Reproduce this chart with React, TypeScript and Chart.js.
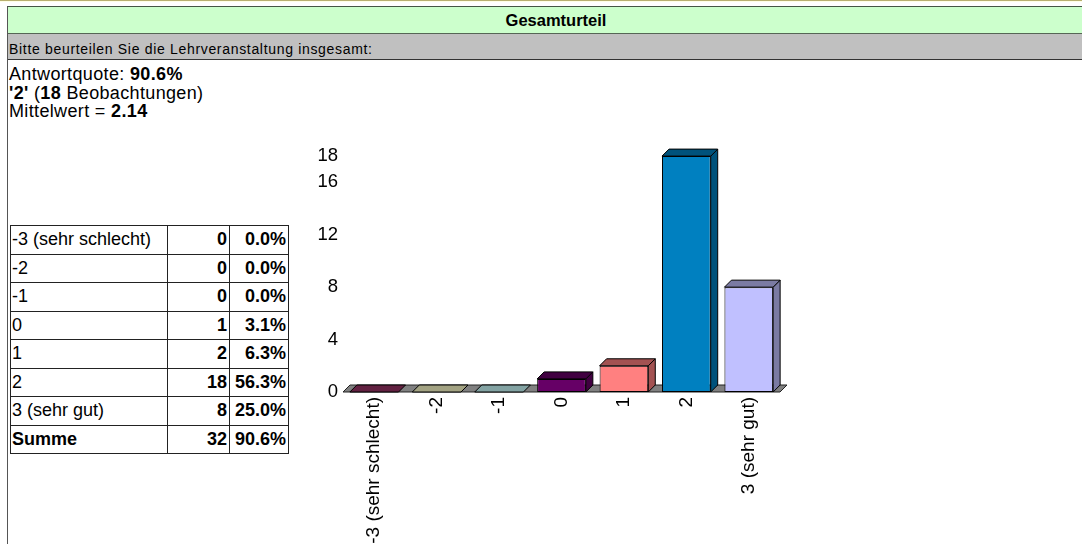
import React, { useEffect, useRef } from "react";
import { Chart, registerables } from "chart.js";

Chart.register(...registerables);

const FONT = '"Liberation Sans", Arial, Helvetica, sans-serif';

// ---- data ----
const categories = ["-3 (sehr schlecht)", "-2", "-1", "0", "1", "2", "3 (sehr gut)"];
const counts = [0, 0, 0, 1, 2, 18, 8];
const percents = ["0.0%", "0.0%", "0.0%", "3.1%", "6.3%", "56.3%", "25.0%"];
const barColors = ["#993366", "#FFFFCC", "#CCFFFF", "#660066", "#FF8080", "#0080C0", "#C0C0FF"];
const yTickValues = [0, 4, 8, 12, 16, 18];
const totalLabel = "Summe";
const totalCount = 32;
const totalPercent = "90.6%";
const responseRate = "90.6%";
const modeLabel = "'2'";
const modeCount = 18;
const meanValue = "2.14";
const titleText = "Gesamturteil";
const questionText = "Bitte beurteilen Sie die Lehrveranstaltung insgesamt:";

const DEPTH = 7;

function shade(hex: string, f: number) {
  const n = parseInt(hex.slice(1), 16);
  const r = Math.round(((n >> 16) & 255) * f);
  const g = Math.round(((n >> 8) & 255) * f);
  const b = Math.round((n & 255) * f);
  return `rgb(${r},${g},${b})`;
}

const threeD = {
  id: "threeD",
  beforeDatasetsDraw(chart: any) {
    const { ctx, chartArea, scales } = chart;
    const base = scales.y.getPixelForValue(0);
    const l = chartArea.left;
    const r = chartArea.right;
    ctx.save();
    ctx.beginPath();
    ctx.moveTo(l, base);
    ctx.lineTo(r, base);
    ctx.lineTo(r + DEPTH, base - DEPTH);
    ctx.lineTo(l + DEPTH, base - DEPTH);
    ctx.closePath();
    ctx.fillStyle = "#808080";
    ctx.fill();
    ctx.strokeStyle = "#222";
    ctx.lineWidth = 1;
    ctx.stroke();
    ctx.restore();
  },
  afterDatasetsDraw(chart: any) {
    const { ctx } = chart;
    const meta = chart.getDatasetMeta(0);
    meta.data.forEach((el: any, i: number) => {
      const p = el.getProps(["x", "y", "base", "width"], true);
      const x1 = p.x - p.width / 2;
      const x2 = p.x + p.width / 2;
      const top = Math.min(p.y, p.base);
      const bottom = Math.max(p.y, p.base);
      const c = shade(barColors[i], 0.64);
      ctx.save();
      ctx.lineWidth = 1;
      ctx.strokeStyle = "#000";
      ctx.lineJoin = "miter";
      if (bottom - top > 0.5) {
        ctx.beginPath();
        ctx.moveTo(x2, top);
        ctx.lineTo(x2 + DEPTH, top - DEPTH);
        ctx.lineTo(x2 + DEPTH, bottom - DEPTH);
        ctx.lineTo(x2, bottom);
        ctx.closePath();
        ctx.fillStyle = c;
        ctx.fill();
        ctx.stroke();
      }
      ctx.beginPath();
      ctx.moveTo(x1, top);
      ctx.lineTo(x2, top);
      ctx.lineTo(x2 + DEPTH, top - DEPTH);
      ctx.lineTo(x1 + DEPTH, top - DEPTH);
      ctx.closePath();
      ctx.fillStyle = c;
      ctx.fill();
      ctx.stroke();
      ctx.restore();
    });
  },
};

const cellBorder = "1px solid #222";

export default function App() {
  const canvasRef = useRef<HTMLCanvasElement>(null);

  useEffect(() => {
    const chart = new Chart(canvasRef.current as HTMLCanvasElement, {
      type: "bar",
      data: {
        labels: categories,
        datasets: [
          {
            data: counts,
            backgroundColor: barColors,
            borderColor: "#000",
            borderWidth: 1,
            borderSkipped: false,
            categoryPercentage: 1,
            barPercentage: 0.78,
          } as any,
        ],
      },
      options: {
        animation: false,
        responsive: false,
        layout: { padding: { top: 15, right: 20, left: 0, bottom: 0 } },
        plugins: { legend: { display: false }, tooltip: { enabled: false } },
        scales: {
          x: {
            grid: { display: false, drawTicks: false },
            border: { display: false },
            ticks: {
              color: "#000",
              font: { size: 19, family: FONT },
              minRotation: 90,
              maxRotation: 90,
              autoSkip: false,
              padding: 5,
            },
            afterFit: (s: any) => {
              s.height = 152;
            },
          },
          y: {
            min: 0,
            max: 18,
            grid: { display: false, drawTicks: false },
            border: { display: false },
            ticks: { color: "#000", font: { size: 18.5, family: FONT }, padding: 5 },
            afterBuildTicks: (s: any) => {
              s.ticks = yTickValues.map((v) => ({ value: v }));
            },
            afterFit: (s: any) => {
              s.width = 43;
            },
          },
        },
      } as any,
      plugins: [threeD],
    });
    return () => chart.destroy();
  }, []);

  const rowStyle: React.CSSProperties = { height: 28.5 };
  const labelCell: React.CSSProperties = { border: cellBorder, padding: "0 0 0 1px", textAlign: "left", whiteSpace: "nowrap" };
  const numCell: React.CSSProperties = { border: cellBorder, padding: "0 2px 0 0", textAlign: "right", fontWeight: "bold", whiteSpace: "nowrap" };

  return (
    <div
      style={{
        position: "absolute",
        left: 0,
        top: 0,
        width: 1082,
        height: 544,
        overflow: "hidden",
        background: "#fff",
        fontFamily: FONT,
        color: "#000",
      }}
    >
      <div style={{ position: "absolute", left: 0, top: 0, width: 1082, height: 1, background: "#B8B070" }} />
      <div style={{ position: "absolute", left: 0, top: 1, width: 1082, height: 1, background: "#FFFFE6" }} />
      <div
        style={{
          position: "absolute",
          left: 7,
          top: 6,
          width: 1100,
          height: 600,
          borderLeft: "1px solid #555",
          borderTop: "1px solid #445544",
          boxSizing: "border-box",
        }}
      />
      <div
        style={{
          position: "absolute",
          left: 8,
          top: 7,
          width: 1096,
          height: 26,
          background: "#CCFFCC",
          borderBottom: "1px solid #556655",
          textAlign: "center",
          fontWeight: "bold",
          fontSize: 16.5,
          lineHeight: "26px",
        }}
      >
        {titleText}
      </div>
      <div
        style={{
          position: "absolute",
          left: 8,
          top: 34,
          width: 1096,
          height: 25,
          background: "#C0C0C0",
          borderBottom: "1px solid #333",
        }}
      />
      <div
        style={{
          position: "absolute",
          left: 9,
          top: 42,
          fontSize: 14,
          lineHeight: "15px",
          letterSpacing: "0.68px",
          whiteSpace: "nowrap",
        }}
      >
        {questionText}
      </div>
      <div
        style={{
          position: "absolute",
          left: 9,
          top: 65,
          fontSize: 18,
          lineHeight: "18.5px",
          letterSpacing: "0.35px",
          whiteSpace: "nowrap",
        }}
      >
        <div>
          Antwortquote: <b>{responseRate}</b>
        </div>
        <div>
          <b>{modeLabel}</b> (<b>{modeCount}</b> Beobachtungen)
        </div>
        <div>
          Mittelwert = <b>{meanValue}</b>
        </div>
      </div>
      <table
        style={{
          position: "absolute",
          left: 10,
          top: 225,
          width: 278,
          borderCollapse: "collapse",
          tableLayout: "fixed",
          fontSize: 18,
          fontFamily: FONT,
        }}
      >
        <colgroup>
          <col style={{ width: 157 }} />
          <col style={{ width: 62 }} />
          <col style={{ width: 59 }} />
        </colgroup>
        <tbody>
          {categories.map((c, i) => (
            <tr key={c} style={rowStyle}>
              <td style={labelCell}>{c}</td>
              <td style={numCell}>{counts[i]}</td>
              <td style={numCell}>{percents[i]}</td>
            </tr>
          ))}
          <tr style={rowStyle}>
            <td style={{ ...labelCell, fontWeight: "bold" }}>{totalLabel}</td>
            <td style={numCell}>{totalCount}</td>
            <td style={numCell}>{totalPercent}</td>
          </tr>
        </tbody>
      </table>
      <div style={{ position: "absolute", left: 300, top: 140, width: 500, height: 404 }}>
        <canvas ref={canvasRef} width={500} height={404} style={{ display: "block" }} />
      </div>
    </div>
  );
}
